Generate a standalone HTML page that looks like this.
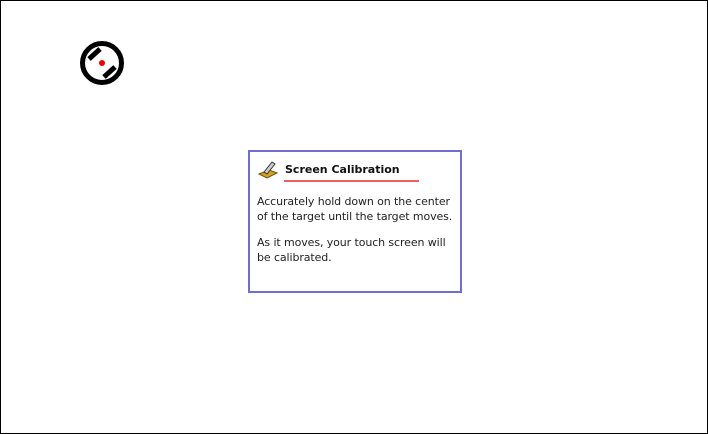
<!DOCTYPE html>
<html><head><style>
html,body{margin:0;padding:0}
body{width:708px;height:434px;position:relative;background:#fff;overflow:hidden;font-family:"DejaVu Sans","Liberation Sans",sans-serif}
.frame{position:absolute;left:0;top:0;width:706px;height:432px;border:1px solid #000}
.box{position:absolute;left:248px;top:150px;width:210px;height:139px;border:2px solid #6f6fd0;background:#fff}
.title{position:absolute;left:35px;top:11px;font-size:11px;font-weight:bold;color:#111}
.ul{position:absolute;left:34px;top:28px;width:135px;height:2px;background:#f06060}
.txt{position:absolute;left:7px;font-size:11px;line-height:15px;color:#222;white-space:nowrap;letter-spacing:-0.1px}
</style></head><body>
<div class="frame"></div>
<svg style="position:absolute;left:76px;top:38px" width="52" height="52" viewBox="0 0 52 52">
<circle cx="26" cy="25" r="19.5" fill="none" stroke="#000" stroke-width="5"/>
<path d="M13 21 L24 11" stroke="#000" stroke-width="5"/>
<path d="M28 39 L39 29" stroke="#000" stroke-width="5"/>
<circle cx="26" cy="25" r="3" fill="#e00"/>
</svg>
<div class="box">
<svg style="position:absolute;left:7px;top:7px" width="22" height="20" viewBox="0 0 22 20">
<path d="M2 15 L12 11 L20 14 L10 19 Z" fill="#d8a020" stroke="#6a5010" stroke-width="1"/>
<path d="M7 13 L15 3 L18 5 L10 15 Z" fill="#ccc" stroke="#333" stroke-width="1"/>
</svg>
<div class="title">Screen Calibration</div>
<div class="ul"></div>
<div class="txt" style="top:42px">Accurately hold down on the center<br>of the target until the target moves.</div>
<div class="txt" style="top:83px">As it moves, your touch screen will<br>be calibrated.</div>
</div>
</body></html>
